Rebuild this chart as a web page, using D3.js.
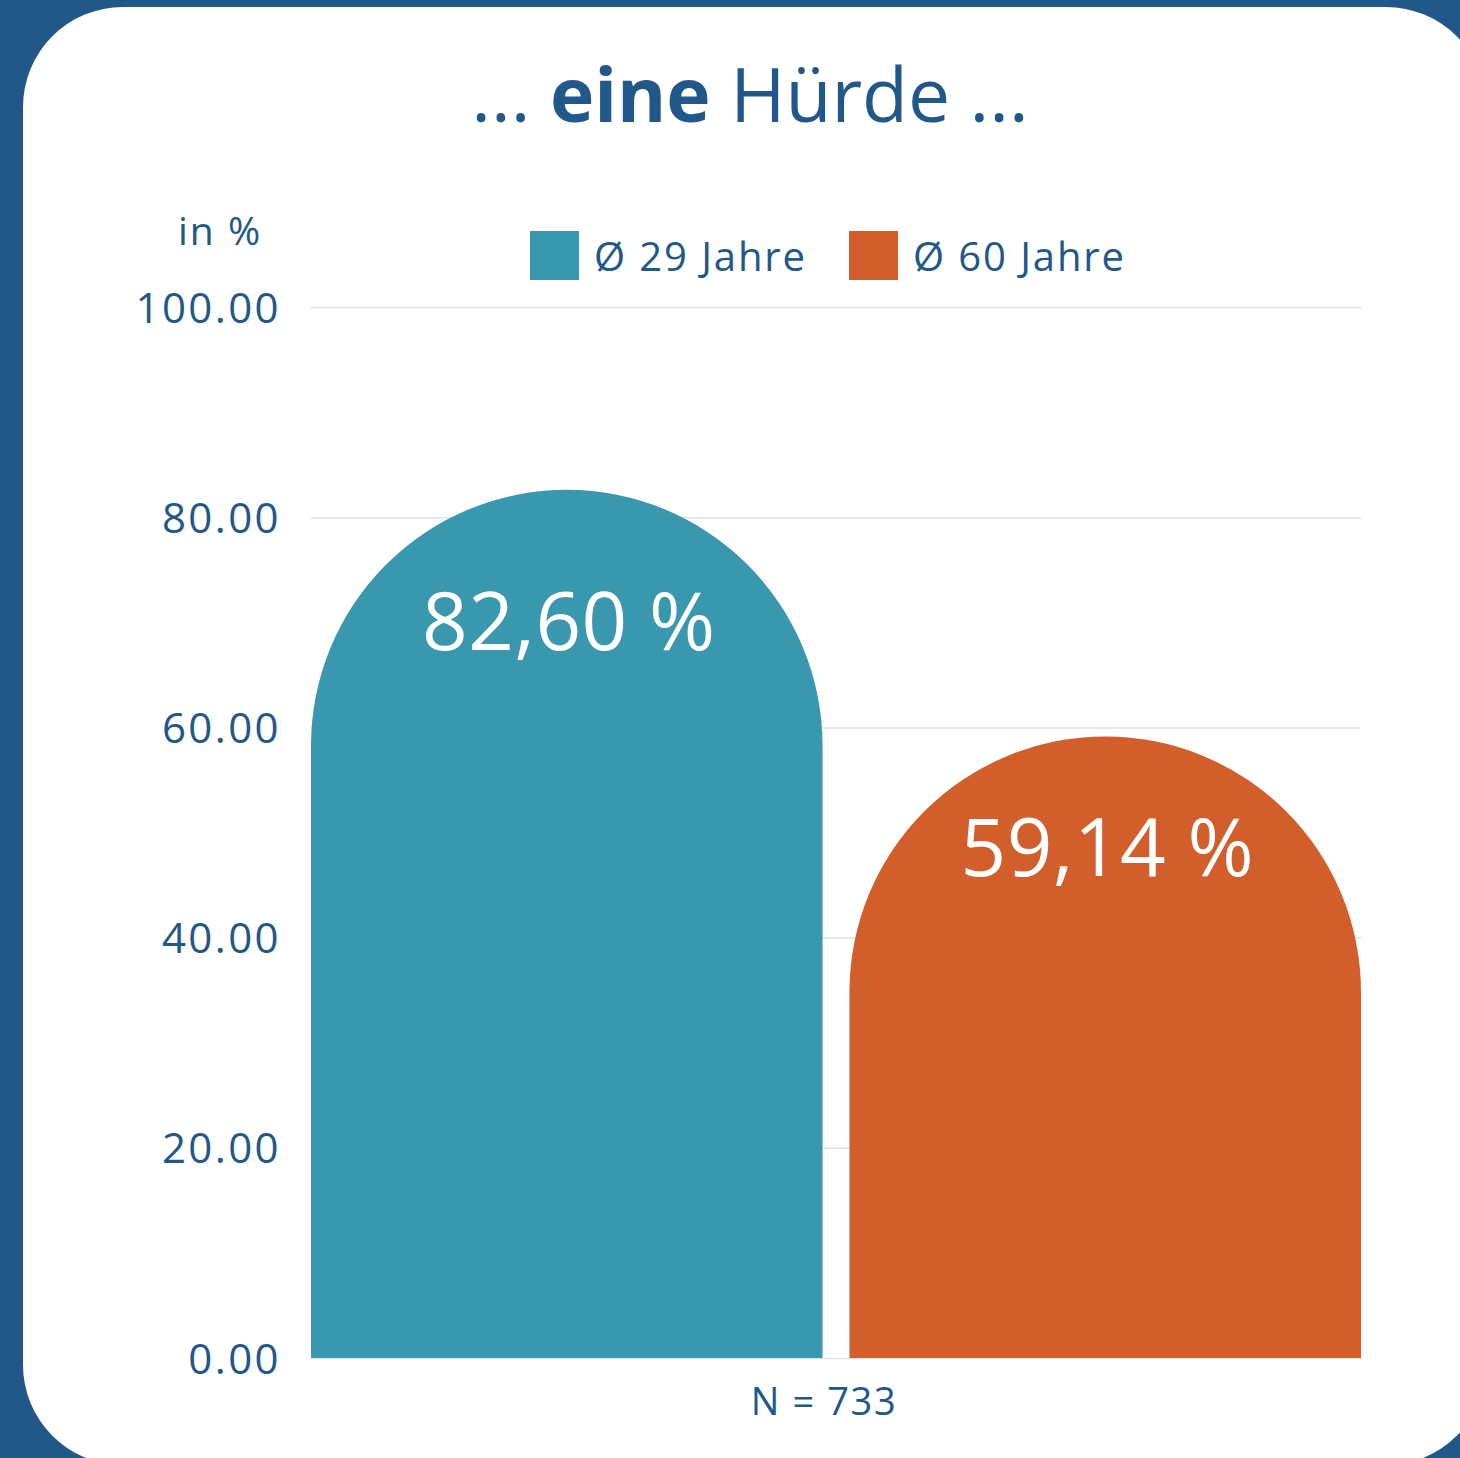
<!DOCTYPE html>
<html>
<head>
<meta charset="utf-8">
<script src="https://cdn.jsdelivr.net/npm/d3@7"></script>
<style>
  body { margin: 0; background: #22578a; }
  svg { display: block; }
</style>
</head>
<body>
<svg width="1460" height="1458"></svg>
<script>
var categories = ["Ø 29 Jahre", "Ø 60 Jahre"];
var values = [82.60, 59.14];
var colors = ["#3a98ae", "#d25e2c"];
var yTicks = [0, 20, 40, 60, 80, 100];
var footnote = "N = 733";

var width = 1460, height = 1458;
var textColor = "#22578a";
var font = "'Open Sans', sans-serif";

var svg = d3.select('svg');

// background card
svg.append('rect')
    .attr('width', width)
    .attr('height', height)
    .attr('fill', '#22578a');

svg.append('rect')
    .attr('x', 23)
    .attr('y', 7)
    .attr('width', 1463)
    .attr('height', 1458)
    .attr('rx', 100)
    .attr('ry', 100)
    .attr('fill', 'white');

var x = d3.scaleBand()
    .domain(categories)
    .range([311, 1361])
    .paddingInner(0.05)
    .paddingOuter(0);

var y = d3.scaleLinear()
    .domain([0, 100])
    .range([1358, 307]);

// title
var title = svg.append('text')
    .attr('x', 750)
    .attr('y', 122)
    .attr('text-anchor', 'middle')
    .attr('fill', textColor)
    .style('font-family', font)
    .style('font-size', '75px');
title.append('tspan').text('... ');
title.append('tspan').style('font-weight', 'bold').text('eine');
title.append('tspan').text(' Hürde ...');

// y unit label
svg.append('text')
    .attr('x', 178)
    .attr('y', 245)
    .attr('fill', textColor)
    .style('font-family', font)
    .style('font-size', '39px')
    .style('letter-spacing', '2px')
    .text('in %');

// legend
var legend = svg.append('g')
    .selectAll('g')
    .data(categories)
    .enter()
    .append('g')
        .attr('transform', function(d, i){
            return "translate(" + (530 + 319*i) + "," + 231 + ")"
        });

legend.append('rect')
    .attr('width', 49)
    .attr('height', 49)
    .attr('fill', function(d, i){ return colors[i] });

legend.append('text')
    .attr('x', 64)
    .attr('y', 40)
    .attr('fill', textColor)
    .style('font-family', font)
    .style('font-size', '40px')
    .style('letter-spacing', '1.9px')
    .text(function(d){ return d });

// grid + y axis
var yAxis = svg.append('g')
    .attr('transform', 'translate(311,0)')
    .call(d3.axisLeft(y)
        .tickValues(yTicks)
        .tickSize(-1050)
        .tickPadding(30)
        .tickFormat(d3.format('.2f')));

yAxis.select('.domain').remove();
yAxis.selectAll('line')
    .attr('stroke', '#dde3ea')
    .attr('stroke-width', 1.5);
yAxis.selectAll('text')
    .attr('fill', textColor)
    .style('font-family', font)
    .style('font-size', '42px')
    .style('letter-spacing', '2.4px')
    .attr('dy', '0.36em');

// bars with round tops
function barPath(d, i) {
    var x0 = x(categories[i]);
    var w = x.bandwidth();
    var r = w / 2;
    var top = y(d);
    var bottom = y(0);
    var p = d3.path();
    p.moveTo(x0, bottom);
    p.lineTo(x0, top + r);
    p.arc(x0 + r, top + r, r, Math.PI, 2 * Math.PI);
    p.lineTo(x0 + w, bottom);
    p.closePath();
    return p.toString();
}

svg.append('g')
    .selectAll('path')
    .data(values)
    .enter()
    .append('path')
        .attr('d', barPath)
        .attr('fill', function(d, i){ return colors[i] });

var labelOffsets = [160, 140];

svg.append('g')
    .selectAll('text')
    .data(values)
    .enter()
    .append('text')
        .attr('x', function(d, i){ return x(categories[i]) + x.bandwidth()/2 + 2 })
        .attr('y', function(d, i){ return y(d) + labelOffsets[i] })
        .attr('text-anchor', 'middle')
        .attr('fill', 'white')
        .style('font-family', font)
        .style('font-size', '80px')
        .style('letter-spacing', '0.4px')
        .text(function(d){ return d3.format('.2f')(d).replace('.', ',') + ' %' });

// footnote
svg.append('text')
    .attr('x', 824)
    .attr('y', 1415)
    .attr('text-anchor', 'middle')
    .attr('fill', textColor)
    .style('font-family', font)
    .style('font-size', '38px')
    .style('letter-spacing', '1.6px')
    .text(footnote);
</script>
</body>
</html>
